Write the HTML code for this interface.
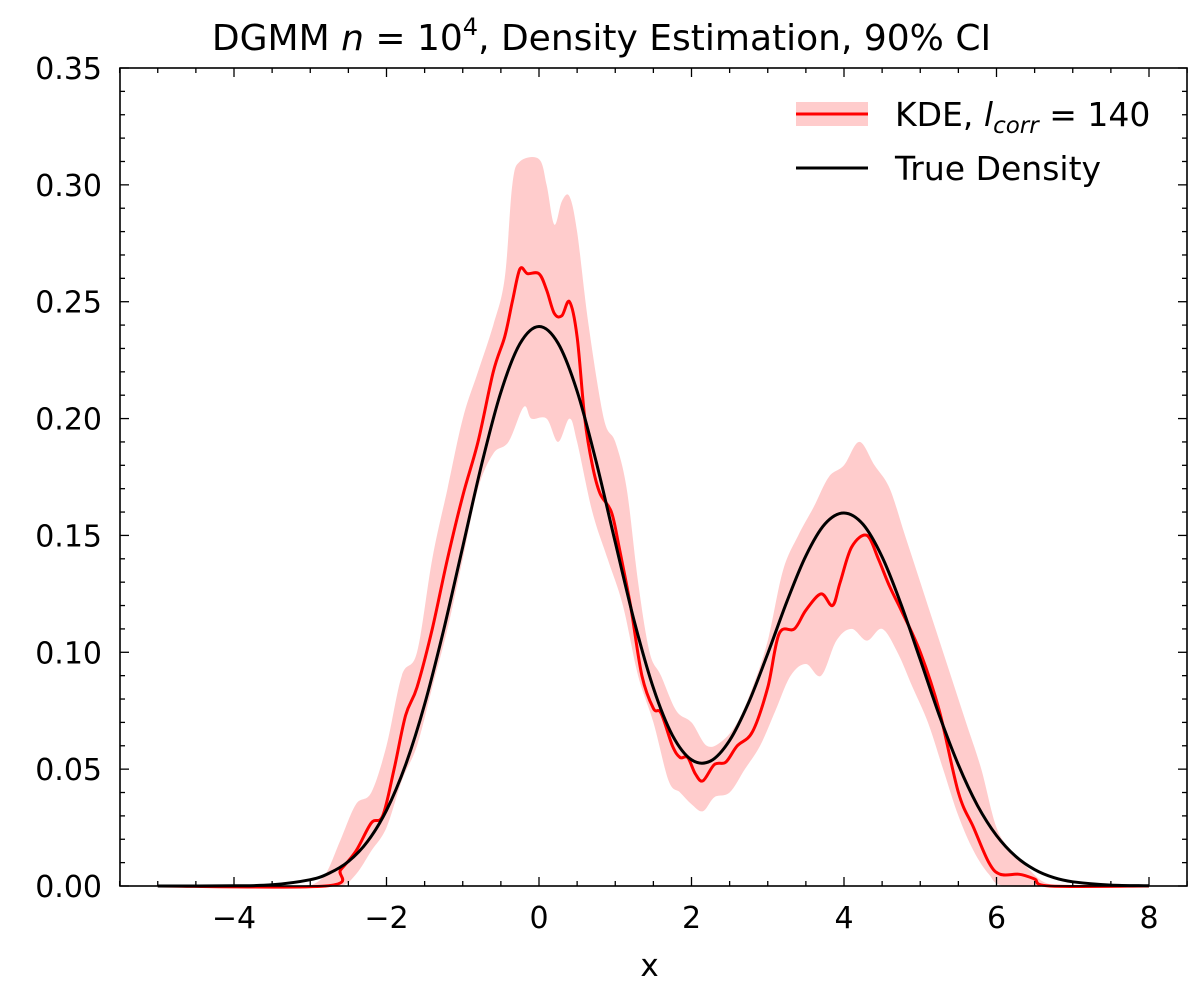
<!DOCTYPE html>
<html><head><meta charset="utf-8"><style>
body{margin:0;background:#fff}
svg{display:block;font-family:"DejaVu Sans","Liberation Sans",sans-serif}
</style></head><body>
<svg id="chart" width="1200" height="984" viewBox="0 0 1200 984"></svg>
<script>
const xTicks=[-4,-2,0,2,4,6,8];
const yTicks=[0,0.05,0.10,0.15,0.20,0.25,0.30,0.35];
const yTickLabels=["0.00","0.05","0.10","0.15","0.20","0.25","0.30","0.35"];
const trueX=[-5,-4,-3.5,-3,-2.75,-2.5,-2.25,-2,-1.75,-1.5,-1.25,-1,-0.75,-0.5,-0.25,0,0.25,0.5,0.75,1,1.25,1.5,1.75,2,2.25,2.5,2.75,3,3.25,3.5,3.75,4,4.25,4.5,4.75,5,5.25,5.5,5.75,6,6.25,6.5,6.75,7,7.5,8];
const trueY=[0,0.0001,0.0005,0.0027,0.0055,0.0105,0.019,0.0324,0.0518,0.0777,0.1096,0.1452,0.1807,0.2113,0.232,0.2394,0.2322,0.2117,0.1815,0.147,0.1132,0.0847,0.0645,0.054,0.0535,0.0623,0.0785,0.0995,0.1216,0.1413,0.1549,0.1596,0.1547,0.1408,0.1204,0.0968,0.073,0.0518,0.0345,0.0216,0.0127,0.007,0.0036,0.0018,0.0004,0.0001];
const kdeX=[-5,-2.8,-2.6,-2.4,-2.2,-2.05,-1.9,-1.75,-1.6,-1.4,-1.2,-1,-0.8,-0.6,-0.45,-0.35,-0.25,-0.15,0,0.1,0.2,0.3,0.4,0.5,0.6,0.7,0.8,0.95,1.05,1.2,1.35,1.5,1.6,1.75,1.85,1.95,2.05,2.15,2.3,2.45,2.6,2.8,3,3.15,3.35,3.5,3.7,3.85,3.95,4.1,4.3,4.45,4.6,4.75,5,5.25,5.5,5.7,5.9,6.05,6.3,6.5,6.7,8];
const kdeY=[0,0,0.007,0.015,0.027,0.03,0.05,0.073,0.085,0.11,0.14,0.167,0.19,0.22,0.235,0.25,0.264,0.262,0.262,0.255,0.245,0.244,0.25,0.235,0.2,0.18,0.168,0.16,0.145,0.12,0.09,0.076,0.074,0.06,0.055,0.055,0.048,0.045,0.052,0.053,0.06,0.066,0.085,0.108,0.11,0.118,0.125,0.12,0.13,0.145,0.15,0.14,0.128,0.118,0.1,0.075,0.04,0.025,0.01,0.005,0.005,0.003,0,0];
const upX=[-3,-2.8,-2.6,-2.4,-2.2,-2,-1.8,-1.6,-1.4,-1.2,-1,-0.8,-0.6,-0.45,-0.35,-0.25,0,0.1,0.2,0.3,0.4,0.5,0.65,0.85,1,1.15,1.3,1.45,1.6,1.8,2,2.2,2.4,2.6,2.8,3,3.2,3.4,3.6,3.8,4,4.2,4.4,4.6,4.8,5,5.2,5.4,5.6,5.8,6,6.2,6.4,6.6,6.8];
const upY=[0,0.005,0.02,0.035,0.04,0.06,0.09,0.1,0.14,0.17,0.2,0.22,0.24,0.26,0.3,0.31,0.311,0.3,0.283,0.293,0.295,0.28,0.24,0.2,0.19,0.17,0.13,0.1,0.09,0.075,0.07,0.06,0.062,0.07,0.085,0.105,0.135,0.15,0.162,0.175,0.18,0.19,0.18,0.17,0.15,0.13,0.11,0.09,0.07,0.05,0.025,0.015,0.008,0.002,0];
const loX=[-3,-2.6,-2.4,-2.2,-2,-1.8,-1.6,-1.4,-1.2,-1,-0.8,-0.6,-0.4,-0.2,-0.1,0.1,0.25,0.4,0.5,0.7,0.9,1.1,1.3,1.5,1.7,1.85,2,2.15,2.3,2.5,2.7,2.9,3.1,3.3,3.5,3.7,3.9,4.1,4.3,4.5,4.7,4.9,5.1,5.3,5.5,5.7,5.9,6.1,6.8];
const loY=[0,0,0.005,0.015,0.025,0.045,0.06,0.085,0.11,0.14,0.17,0.185,0.19,0.205,0.2,0.2,0.19,0.2,0.19,0.16,0.14,0.12,0.09,0.07,0.045,0.04,0.035,0.032,0.038,0.04,0.05,0.06,0.075,0.09,0.095,0.09,0.105,0.11,0.105,0.11,0.1,0.085,0.07,0.05,0.03,0.015,0.005,0,0];

const NS="http://www.w3.org/2000/svg";
const svg=document.getElementById('chart');
const L=120,R=1187,T=68,B=886;
const sx=v=>539+76.25*v;
const sy=v=>B-(v/0.35)*(B-T);
function mk(tag,attrs){const e=document.createElementNS(NS,tag);for(const k in attrs)e.setAttribute(k,attrs[k]);svg.appendChild(e);return e;}
function P(xs,ys){return xs.map((x,i)=>[sx(x),sy(ys[i])]);}
function smooth(p,start){
  let d=start?('M'+p[0][0].toFixed(1)+','+p[0][1].toFixed(1)):('L'+p[0][0].toFixed(1)+','+p[0][1].toFixed(1));
  for(let i=0;i<p.length-1;i++){
    const p0=p[i-1]||p[i],p1=p[i],p2=p[i+1],p3=p[i+2]||p[i+1];
    const c1=[p1[0]+(p2[0]-p0[0])/6,p1[1]+(p2[1]-p0[1])/6];
    const c2=[p2[0]-(p3[0]-p1[0])/6,p2[1]-(p3[1]-p1[1])/6];
    d+=' C'+c1.map(v=>v.toFixed(1))+' '+c2.map(v=>v.toFixed(1))+' '+p2.map(v=>v.toFixed(1));
  }
  return d;
}

let band=mk('path',{d:smooth(P(upX,upY),true)+' '+smooth(P(loX,loY).reverse(),false)+'Z',fill:'#ffcccc',stroke:'none'});


let kde=mk('path',{d:smooth(P(kdeX,kdeY),true),fill:'none',stroke:'#ff0000','stroke-width':3,'stroke-linejoin':'round'});


let tr=mk('path',{d:smooth(P(trueX,trueY),true),fill:'none',stroke:'#000','stroke-width':3,'stroke-linejoin':'round'});



let frame=mk('rect',{x:L,y:T,width:R-L,height:B-T,fill:'none',stroke:'#000','stroke-width':1.6});



for(let v=-5.5;v<=8.5+1e-9;v+=0.5){
  const x=sx(v);if(x<L-0.5||x>R+0.5)continue;
  const major=Math.abs(v/2-Math.round(v/2))<1e-9;
  const len=major?9:5;
  mk('line',{x1:x,x2:x,y1:B,y2:B-len,stroke:'#000','stroke-width':1.3});
  mk('line',{x1:x,x2:x,y1:T,y2:T+len,stroke:'#000','stroke-width':1.3});
}
xTicks.forEach(v=>{
  const t=mk('text',{x:sx(v),y:B+42,'font-size':30,'text-anchor':'middle',fill:'#000'});
  t.textContent=(v<0?'\u2212'+(-v):''+v);
  
  
});
for(let i=0;i<=35;i++){
  const v=i*0.01,y=sy(v);const major=i%5===0;const len=major?9:5;
  mk('line',{x1:L,x2:L+len,y1:y,y2:y,stroke:'#000','stroke-width':1.3});
  mk('line',{x1:R,x2:R-len,y1:y,y2:y,stroke:'#000','stroke-width':1.3});
}
yTicks.forEach((v,i)=>{
  const t=mk('text',{x:L-18,y:sy(v)+11,'font-size':30,'text-anchor':'end',fill:'#000'});
  t.textContent=yTickLabels[i];
  
  
});
let xl=mk('text',{x:(L+R)/2-4,y:976,'font-size':31,'text-anchor':'middle'});
xl.textContent='x';



let title=mk('text',{x:(L+R)/2-52,y:50,'font-size':36,'text-anchor':'middle'});
title.innerHTML='DGMM <tspan font-style="italic">n</tspan> = 10<tspan font-size="24" dy="-15">4</tspan><tspan dy="15">, Density Estimation, 90% CI</tspan>';



let lp=mk('rect',{x:796,y:102,width:72,height:24,fill:'#ffcccc'});


mk('line',{x1:796,x2:868,y1:114,y2:114,stroke:'#ff0000','stroke-width':3});
let lt1=mk('text',{x:895,y:126,'font-size':33});
lt1.innerHTML='KDE, <tspan font-style="italic">l</tspan><tspan font-style="italic" font-size="23" dy="7">corr</tspan><tspan dy="-7"> = 140</tspan>';


mk('line',{x1:796,x2:868,y1:168,y2:168,stroke:'#000','stroke-width':3});
let lt2=mk('text',{x:895,y:180,'font-size':33});
lt2.textContent='True Density';


</script>
</body></html>
